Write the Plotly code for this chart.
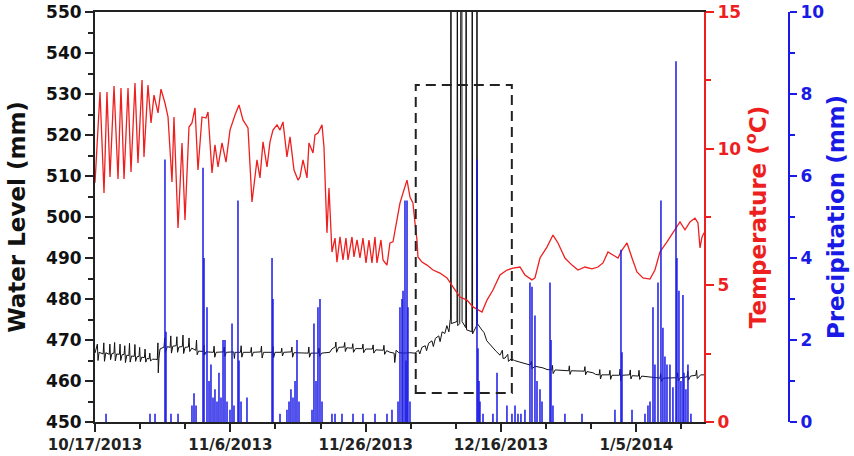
import pandas as pd
import plotly.graph_objects as go

START = pd.Timestamp("2013-10-17")

# ---------------- data (day offsets from 2013-10-17) ----------------
water_day = [0.0, 0.35, 0.45, 0.6, 1.2, 1.3, 1.4, 1.6, 2.1, 2.2, 2.3, 2.5, 2.8, 2.9, 3.0, 3.2,
             3.6, 3.7, 3.8, 4.0, 4.3, 4.4, 4.5, 4.7, 5.0, 5.1, 5.2, 5.4, 5.8, 5.9, 6.0, 6.2,
             6.5, 6.6, 6.7, 6.9, 7.3, 7.4, 7.5, 7.7, 8.0, 8.1, 8.2, 8.5, 9.0, 9.2, 9.3, 9.35,
             9.45, 9.6, 10.2, 10.3, 10.4, 10.7, 11.1, 11.2, 11.3, 11.5, 12.0, 12.1, 12.2, 12.4,
             12.9, 13.0, 13.1, 13.3, 13.8, 13.9, 14.0, 14.3, 14.9, 15.0, 15.1, 15.3, 16.0, 16.1,
             16.2, 16.4, 17.5, 17.6, 17.7, 17.9, 19.0, 19.1, 19.2, 19.4, 20.5, 20.6, 20.7, 21.5,
             21.6, 21.7, 21.9, 23.0, 23.1, 23.2, 23.4, 24.5, 24.6, 24.7, 24.9, 26.2, 26.3, 26.4,
             26.6, 27.5, 27.6, 27.7, 27.9, 29.0, 29.1, 29.2, 29.4, 30.3, 31.5, 31.6, 31.7, 31.9,
             33.0, 33.1, 33.2, 33.5, 34.7, 35.0, 35.5, 35.6, 35.7, 36.0, 36.8, 36.9, 37.0, 37.2,
             38.0, 38.1, 38.2, 38.5, 39.5, 39.6, 39.7, 40.0, 41.0, 41.1, 41.2, 41.5, 42.6, 42.7,
             42.8, 43.1, 43.6, 44.2, 44.3, 44.5, 44.9, 45.8, 46.5, 47.3, 47.8, 48.0, 48.3, 48.8,
             49.0, 49.3, 49.8, 50.0, 50.3, 50.8, 51.0, 51.3, 51.7, 52.0, 52.3, 52.5, 52.55, 52.6,
             52.65, 53.5, 53.55, 53.6, 53.9, 54.2, 54.25, 54.8, 54.85, 54.9, 55.7, 55.75, 55.8,
             56.4, 56.45, 56.5, 57.2, 57.5, 57.9, 58.3, 58.8, 59.3, 59.85, 60.2, 60.3, 60.6, 61.0,
             61.1, 61.5, 62.0, 62.8, 63.5, 64.3, 64.5, 64.6, 65.0, 66.2, 66.8, 67.5, 67.6, 67.7,
             68.0, 69.5, 70.0, 70.1, 70.2, 70.4, 71.5, 72.3, 72.4, 72.5, 72.7, 73.6, 74.0, 74.5,
             74.6, 74.7, 74.9, 76.0, 76.1, 76.2, 76.4, 77.5, 77.6, 77.7, 77.9, 79.0, 79.1, 79.2,
             79.4, 80.3, 80.4, 80.5, 80.8, 82.0, 82.5, 83.5, 83.6, 83.7, 84.0, 85.5, 86.0, 86.1,
             86.2, 86.5, 87.5, 87.6, 87.7, 88.0, 88.8, 88.9, 89.0, 89.5, 90.0]
water_mm = [466.8, 469.0, 465.0, 467.0, 466.6, 469.3, 464.8, 466.9, 466.5, 469.0, 465.2, 466.7,
            466.8, 469.4, 464.9, 466.6, 466.5, 469.0, 465.0, 466.4, 466.5, 468.6, 464.5, 466.3,
            466.2, 469.2, 464.6, 466.1, 466.0, 468.9, 464.8, 465.9, 466.0, 468.2, 464.7, 465.8,
            465.7, 467.8, 464.6, 465.5, 465.4, 466.8, 464.9, 465.3, 465.3, 465.2, 469.3, 462.0,
            465.5, 467.8, 468.3, 470.5, 467.0, 468.4, 468.2, 471.0, 466.8, 468.5, 468.6, 470.8,
            467.0, 468.3, 468.4, 471.2, 466.7, 468.2, 468.3, 470.5, 467.2, 468.0, 467.5, 470.0,
            466.4, 467.3, 467.2, 468.8, 466.3, 467.1, 467.0, 468.5, 465.8, 467.0, 467.1, 468.3,
            466.0, 467.0, 467.1, 465.5, 467.0, 467.0, 468.6, 465.8, 467.0, 467.0, 468.2, 466.0,
            467.0, 467.1, 468.5, 465.6, 467.0, 467.0, 468.4, 465.7, 467.0, 467.0, 468.0, 466.1,
            467.0, 467.1, 468.3, 465.8, 466.9, 466.9, 466.8, 468.3, 465.8, 466.8, 466.8, 468.0,
            466.0, 466.8, 467.0, 467.8, 468.3, 469.5, 467.0, 468.2, 468.3, 469.4, 467.2, 468.1,
            468.0, 469.1, 467.0, 467.9, 467.9, 469.0, 466.9, 467.8, 467.8, 468.8, 466.8, 467.6,
            467.5, 468.7, 466.5, 467.4, 467.0, 466.8, 464.5, 467.5, 466.9, 466.8, 466.9, 466.8,
            467.5, 466.6, 468.2, 468.6, 467.4, 469.2, 469.8, 468.4, 470.4, 471.0, 469.6, 472.0,
            471.6, 473.5, 472.0, 475.0, 475.0, 620.0, 474.0, 474.5, 620.0, 473.5, 474.0, 620.0,
            474.5, 473.0, 620.0, 472.5, 472.0, 620.0, 471.5, 473.5, 620.0, 474.0, 472.4, 471.8,
            469.8, 469.0, 468.0, 467.2, 466.3, 467.5, 465.5, 465.6, 466.5, 464.8, 465.4, 465.0,
            464.6, 464.2, 463.9, 464.8, 463.0, 463.6, 463.2, 462.8, 462.7, 463.8, 461.8, 462.7,
            462.6, 462.5, 463.7, 461.6, 462.5, 462.4, 462.4, 463.5, 461.5, 462.3, 462.0, 461.6,
            461.5, 462.8, 460.5, 461.5, 461.5, 462.6, 460.4, 461.4, 461.4, 462.9, 460.0, 461.4,
            461.5, 462.7, 460.5, 461.3, 461.2, 462.6, 460.4, 461.2, 461.0, 460.8, 460.7, 461.8,
            459.9, 460.7, 460.7, 460.8, 462.0, 460.0, 460.8, 461.0, 462.4, 460.2, 461.2, 461.4,
            462.6, 460.6, 461.5, 461.5]

temp_day = [0.0, 0.74, 1.33, 1.77, 2.22, 2.81, 3.40, 3.84, 4.29, 4.88, 5.32, 5.91, 6.35, 6.95,
            7.24, 7.83, 8.28, 8.72, 9.31, 9.75, 10.34, 10.79, 11.38, 11.67, 12.27, 12.86, 13.30,
            13.89, 14.33, 14.78, 15.22, 15.81, 16.40, 16.70, 17.29, 17.73, 18.18, 18.77, 19.36,
            19.95, 20.69, 21.28, 21.87, 22.61, 23.20, 23.94, 24.38, 24.83, 25.42, 25.86, 26.30,
            26.90, 27.34, 27.78, 28.37, 28.82, 29.41, 30.00, 30.29, 30.74, 31.33, 31.62, 32.22,
            32.51, 32.95, 33.55, 33.84, 34.28, 34.58, 35.02, 35.47, 35.76, 36.21, 36.65, 37.09,
            37.39, 37.98, 38.27, 38.72, 39.16, 39.60, 40.05, 40.49, 40.93, 41.38, 41.67, 42.26,
            42.56, 43.15, 43.59, 44.04, 44.63, 45.07, 45.52, 46.11, 46.55, 46.99, 47.29, 47.58,
            47.73, 48.32, 49.06, 49.95, 50.98, 52.02, 52.90, 53.94, 54.97, 55.86, 57.19, 57.93,
            58.81, 59.85, 60.88, 61.77, 62.80, 63.54, 64.58, 65.02, 65.76, 66.79, 67.68, 68.42,
            69.45, 70.49, 71.38, 72.41, 73.44, 74.33, 75.07, 75.81, 76.55, 77.29, 77.88, 78.62,
            79.36, 80.09, 80.98, 82.02, 82.75, 83.49, 84.53, 85.41, 86.45, 87.19, 87.93, 88.67,
            89.11, 89.41, 89.71, 90.00]
temp_c = [8.75, 12.07, 8.38, 12.07, 8.96, 12.29, 8.89, 12.22, 8.89, 12.22, 9.15, 12.40, 9.48,
          12.51, 9.70, 12.33, 10.94, 11.96, 11.31, 12.18, 11.67, 11.16, 8.78, 11.16, 7.10, 10.21,
          7.39, 10.79, 10.94, 11.49, 9.22, 11.16, 11.12, 11.34, 9.11, 10.14, 9.33, 10.21, 9.51,
          10.68, 11.23, 11.60, 11.05, 10.76, 8.05, 9.59, 8.93, 10.25, 9.33, 10.25, 10.68, 10.87,
          10.68, 10.98, 9.70, 10.43, 9.22, 8.85, 8.96, 9.59, 8.93, 10.21, 9.84, 10.50, 10.57,
          10.87, 10.06, 6.92, 8.56, 6.22, 6.73, 5.85, 6.77, 5.93, 6.73, 5.93, 6.77, 6.04, 6.66,
          6.00, 6.73, 5.82, 6.66, 5.82, 6.77, 5.82, 6.66, 5.93, 5.74, 6.55, 6.59, 7.50, 8.01,
          8.38, 8.85, 8.23, 8.01, 7.28, 6.66, 6.04, 5.85, 5.74, 5.56, 5.45, 5.27, 4.94, 4.57,
          4.46, 4.21, 4.02, 4.46, 4.83, 5.38, 5.56, 5.63, 5.67, 5.38, 5.20, 5.27, 6.00, 6.40,
          6.84, 6.55, 6.00, 5.74, 5.56, 5.67, 5.60, 5.67, 5.82, 6.22, 6.11, 6.00, 6.29, 6.55,
          6.00, 5.49, 5.27, 5.23, 5.56, 6.22, 6.59, 6.92, 7.32, 7.03, 7.32, 7.46, 7.28, 6.37,
          6.77, 6.92]

rain_day = [1.63, 8.13, 8.87, 10.34, 10.49, 11.23, 12.27, 14.33, 14.63, 14.93, 15.96, 16.11,
            16.55, 16.85, 17.14, 17.44, 17.73, 18.03, 18.32, 18.62, 18.92, 19.21, 19.51, 19.95,
            20.25, 20.54, 21.13, 21.28, 21.58, 22.46, 26.16, 26.30, 27.34, 28.37, 28.67, 28.96,
            29.26, 29.56, 29.85, 30.15, 32.07, 32.36, 32.66, 32.95, 33.25, 33.55, 35.02, 35.47,
            36.50, 38.13, 39.60, 41.38, 43.15, 43.89, 44.78, 45.07, 45.37, 45.52, 45.81, 45.96,
            46.11, 46.25, 46.55, 56.45, 56.60, 56.75, 56.89, 57.34, 58.81, 59.41, 60.88, 61.62,
            62.07, 62.51, 62.95, 63.54, 64.28, 64.58, 65.02, 65.32, 65.76, 66.06, 67.24, 67.39,
            67.68, 69.45, 71.97, 76.84, 77.73, 77.88, 79.36, 81.28, 81.72, 82.02, 82.46, 82.75,
            83.20, 83.64, 83.93, 84.23, 84.53, 84.97, 85.41, 85.86, 86.00, 86.30, 86.59, 86.89,
            87.04, 87.33, 87.63, 88.07]
rain_mm = [0.2, 0.2, 0.2, 6.4, 2.2, 0.2, 0.2, 0.4, 0.7, 0.4, 6.2, 4.0, 2.8, 1.0, 1.4, 0.6, 0.8,
           0.5, 1.2, 0.6, 2.0, 2.0, 0.5, 0.3, 2.4, 0.4, 5.4, 1.5, 0.5, 0.6, 4.0, 3.0, 0.2, 0.3,
           0.5, 0.8, 0.6, 1.0, 2.0, 0.5, 0.3, 2.4, 1.0, 2.8, 3.0, 0.5, 0.2, 0.2, 0.2, 0.2, 0.2,
           0.2, 0.2, 0.3, 0.5, 2.8, 3.0, 3.2, 5.4, 1.5, 5.4, 2.8, 0.5, 6.4, 1.8, 1.0, 0.5, 0.2,
           0.2, 1.2, 0.4, 0.2, 0.4, 0.2, 0.2, 0.3, 3.4, 3.3, 2.6, 1.0, 0.8, 0.5, 3.4, 2.0, 0.4,
           0.2, 0.2, 0.3, 4.2, 1.7, 0.3, 0.2, 0.4, 0.5, 2.8, 1.4, 3.4, 5.4, 2.3, 1.6, 1.4, 1.4,
           0.85, 8.8, 4.0, 3.2, 1.0, 3.1, 1.2, 0.8, 1.4, 0.2]

x_range = ["2013-10-17", "2014-01-15"]
x_tick_dates = ["2013-10-17", "2013-11-06", "2013-11-26", "2013-12-16", "2014-01-05"]
x_tick_text = ["10/17/2013", "11/6/2013", "11/26/2013", "12/16/2013", "1/5/2014"]
box_dates = [47.4, 61.6]          # highlighted window (day offsets)
box_levels = [457.1, 532.2]       # mm

# ---------------- helpers ----------------
def to_date(d):
    return (START + pd.Timedelta(days=float(d))).strftime("%Y-%m-%d %H:%M:%S")

rain_x, rain_y = [], []
for d, p in zip(rain_day, rain_mm):
    t = to_date(d)
    rain_x += [t, t, None]
    rain_y += [0, p, None]

RED = "#ee1f1f"
BLUE = "#1a1ae6"
FONT = "DejaVu Sans"

fig = go.Figure()
fig.add_trace(go.Scatter(x=[to_date(d) for d in water_day], y=water_mm, mode="lines",
                         line=dict(color="#111111", width=1), yaxis="y", showlegend=False))
fig.add_trace(go.Scatter(x=[to_date(d) for d in temp_day], y=temp_c, mode="lines",
                         line=dict(color=RED, width=1.3), yaxis="y2", showlegend=False))
fig.add_trace(go.Scatter(x=rain_x, y=rain_y, mode="lines", connectgaps=False,
                         line=dict(color=BLUE, width=1.5), yaxis="y3", showlegend=False))

fig.add_shape(type="rect", xref="x", yref="y",
              x0=to_date(box_dates[0]), x1=to_date(box_dates[1]),
              y0=box_levels[0], y1=box_levels[1],
              line=dict(color="#222222", width=2, dash="10px,6px"))

W, H = 854, 456
L, R, T, B = 95, 40, 12, 34
pw = W - L - R
x_end = (704 - L) / pw
blue_pos = (789 - L) / pw

fig.update_layout(
    width=W, height=H,
    margin=dict(l=L, r=R, t=T, b=B),
    paper_bgcolor="white", plot_bgcolor="white",
    font=dict(family=FONT, color="#111111"),
    xaxis=dict(
        domain=[0, x_end], type="date", range=x_range,
        tickmode="array", tickvals=x_tick_dates, ticktext=x_tick_text,
        ticks="outside", ticklen=8, tickwidth=2, tickcolor="#222222",
        minor=dict(ticks="outside", ticklen=5, tickwidth=1.5, tickcolor="#222222",
                   tick0="2013-10-17", dtick=576000000),
        showline=True, linecolor="#222222", linewidth=2, mirror=True,
        showgrid=False, zeroline=False, automargin=False,
        tickfont=dict(family=FONT, size=15, color="#222222", weight="bold"),
    ),
    yaxis=dict(
        range=[450, 550], tickmode="linear", tick0=450, dtick=10,
        ticks="outside", ticklen=8, tickwidth=2, tickcolor="#222222",
        minor=dict(ticks="outside", ticklen=5, tickwidth=1.5, tickcolor="#222222", dtick=5),
        showline=True, linecolor="#222222", linewidth=2,
        showgrid=False, zeroline=False, automargin=False,
        tickfont=dict(family=FONT, size=17, color="#111111", weight="bold"),
        title=dict(text="Water Level (mm)", standoff=14,
                   font=dict(family=FONT, size=23, color="#111111", weight="bold")),
    ),
    yaxis2=dict(
        range=[0, 15], tickmode="linear", tick0=0, dtick=5,
        overlaying="y", side="right", anchor="x",
        ticks="outside", ticklen=8, tickwidth=2, tickcolor=RED,
        minor=dict(ticks="outside", ticklen=5, tickwidth=1.5, tickcolor=RED, dtick=2.5),
        showline=True, linecolor=RED, linewidth=2,
        showgrid=False, zeroline=False, automargin=False,
        tickfont=dict(family=FONT, size=17, color=RED, weight="bold"),
        title=dict(text="Temperature (<sup>o</sup>C)", standoff=8,
                   font=dict(family=FONT, size=23, color=RED, weight="bold")),
    ),
    yaxis3=dict(
        range=[0, 10], tickmode="linear", tick0=0, dtick=2,
        overlaying="y", side="right", anchor="free", position=blue_pos,
        ticks="outside", ticklen=7, tickwidth=2, tickcolor=BLUE,
        minor=dict(ticks="outside", ticklen=5, tickwidth=1.5, tickcolor=BLUE, dtick=1),
        showline=True, linecolor=BLUE, linewidth=2,
        showgrid=False, zeroline=False, automargin=False,
        tickfont=dict(family=FONT, size=17, color=BLUE, weight="bold"),
        title=dict(text="Precipitation (mm)", standoff=4,
                   font=dict(family=FONT, size=23, color=BLUE, weight="bold")),
    ),
)

fig.write_html("out.html")
